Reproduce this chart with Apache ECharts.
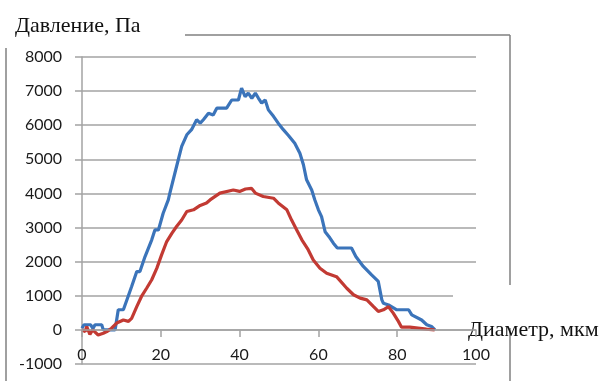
<!DOCTYPE html>
<html>
<head>
<meta charset="utf-8">
<script src="https://cdn.jsdelivr.net/npm/echarts@6/dist/echarts.min.js"></script>
<style>html,body{margin:0;padding:0;background:#fff}#c{width:606px;height:381px}</style>
</head>
<body>
<div id="c"></div>
<script>
// Diameter (мкм) and pressure (Па) readings
const blueX = [0,0.5,1.5,2.2,2.8,3.3,5.0,5.4,8.4,9.2,10.5,11.7,12.6,13.9,14.7,16.0,17.7,18.5,19.4,20.6,21.9,22.3,24.0,25.3,26.6,27.8,29.1,30.0,30.8,32.1,33.3,34.2,36.7,38.0,39.7,40.5,41.4,42.2,43.1,44.0,44.8,45.6,46.5,47.3,48.6,49.8,51.1,52.4,54.0,55.3,56.2,57.0,58.3,59.1,60.0,60.8,61.7,62.9,63.8,64.8,68.4,69.5,71.4,73.5,75.2,76.1,76.5,77.8,79.9,82.9,83.7,86.2,87.5,88.7,89.6];
const blueY = [50,150,150,150,40,150,150,0,0,590,590,980,1270,1710,1710,2150,2640,2930,2930,3420,3810,4010,4790,5380,5720,5870,6160,6060,6160,6350,6300,6500,6500,6740,6740,7090,6840,6940,6790,6940,6790,6650,6740,6450,6260,6060,5870,5700,5470,5180,4840,4400,4100,3810,3520,3320,2880,2700,2540,2400,2400,2150,1860,1610,1420,880,780,730,590,590,440,290,150,100,0];
const redX = [0,0.8,1.2,2.0,2.7,4.1,5.4,6.3,7.5,8.8,10.5,11.8,12.6,13.9,15.1,16.4,17.7,19.0,20.2,21.5,22.8,24.0,25.3,26.6,28.3,30.0,31.6,32.5,35.0,38.4,40.0,41.5,43.0,44.0,46.0,48.6,49.8,50.3,52.0,53.2,54.5,55.8,57.4,58.7,60.4,62.1,64.6,67.2,68.9,70.6,72.3,74.0,75.2,76.5,77.8,79.0,80.3,81.1,83.2,85.3,87.4,89.5];
const redY = [0,-50,100,-130,0,-150,-100,-50,50,200,290,250,340,680,980,1220,1470,1810,2200,2590,2830,3030,3220,3470,3520,3650,3720,3810,4010,4100,4060,4130,4150,4010,3910,3860,3720,3670,3520,3220,2930,2640,2350,2050,1810,1660,1560,1220,1030,930,880,680,540,590,680,490,250,80,80,50,20,0];
const yTitle = 'Давление, Па';
const xTitle = 'Диаметр, мкм';

const pairs = (xs, ys) => xs.map((x, i) => [x, ys[i]]);
const gridCol = '#a3a3a3';
const labelFont = {fontFamily: 'Lato', fontSize: 16, color: '#1a1a1a'};

const chart = echarts.init(document.getElementById('c'), null, {renderer: 'canvas'});
chart.setOption({
  animation: false,
  backgroundColor: '#fff',
  title: {
    text: yTitle, left: 10, top: 10,
    textStyle: {fontFamily: 'Liberation Serif', fontSize: 22, fontWeight: 'normal', color: '#111'}
  },
  grid: {left: 82, right: 130, top: 57, bottom: 17, containLabel: false, outerBoundsMode: 'none'},
  xAxis: {
    type: 'value', min: 0, max: 100, interval: 20, z: 10,
    name: xTitle, nameLocation: 'end', nameGap: -8,
    nameTextStyle: {fontFamily: 'Liberation Serif', fontSize: 22, color: '#111', padding: [0, 0, 48, 0]},
    axisLine: {onZero: true, lineStyle: {color: gridCol, width: 1.5}},
    axisTick: {show: true, length: 7, lineStyle: {color: gridCol, width: 1.5}},
    axisLabel: Object.assign({margin: -17, hideOverlap: false, formatter: v => String(v)}, labelFont),
    splitLine: {show: false}
  },
  yAxis: {
    type: 'value', min: -1000, max: 8000, interval: 1000,
    axisLine: {show: true, lineStyle: {color: gridCol, width: 1.5}},
    axisTick: {show: true, length: 7, lineStyle: {color: gridCol, width: 1.5}},
    axisLabel: Object.assign({margin: 20, formatter: v => String(v)}, labelFont),
    splitLine: {show: true, lineStyle: {color: gridCol, width: 1.5}}
  },
  graphic: [
    {type: 'rect', z: 5, shape: {x: 453, y: 284, width: 153, height: 43}, style: {fill: '#fff'}},
    {type: 'line', z: 6, shape: {x1: 6, y1: 48, x2: 6, y2: 381}, style: {stroke: '#808080', lineWidth: 1.5}},
    {type: 'line', z: 6, shape: {x1: 185, y1: 35, x2: 510, y2: 35}, style: {stroke: '#808080', lineWidth: 1.5}},
    {type: 'line', z: 6, shape: {x1: 510, y1: 35, x2: 510, y2: 285}, style: {stroke: '#808080', lineWidth: 1.5}},
    {type: 'line', z: 6, shape: {x1: 510, y1: 328, x2: 510, y2: 381}, style: {stroke: '#808080', lineWidth: 1.5}}
  ],
  series: [
    {type: 'line', data: pairs(blueX, blueY), showSymbol: false, z: 3,
     lineStyle: {color: '#3b74ba', width: 3.2}, itemStyle: {color: '#3b74ba'}},
    {type: 'line', data: pairs(redX, redY), showSymbol: false, z: 4,
     lineStyle: {color: '#c23a33', width: 3.2}, itemStyle: {color: '#c23a33'}}
  ]
});
</script>
</body>
</html>
